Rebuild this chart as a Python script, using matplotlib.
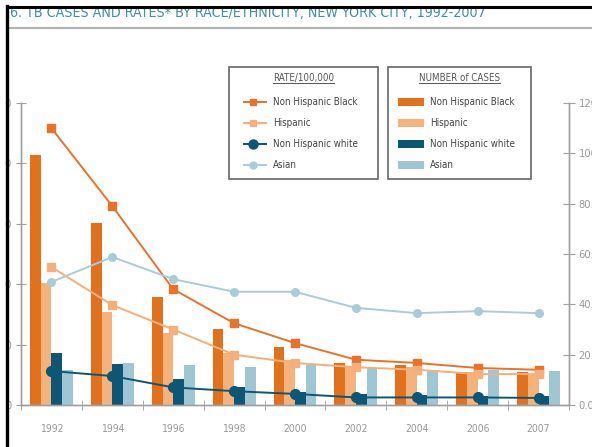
"""TB cases and rates by race/ethnicity, New York City, 1992-2007."""

import numpy as np
import matplotlib
matplotlib.use("Agg")
import matplotlib.pyplot as plt
from matplotlib import font_manager as fm
from matplotlib.patches import Rectangle
from matplotlib.lines import Line2D

# data
years = ["1992", "1994", "1996", "1998", "2000", "2002", "2004", "2006", "2007"]

cases_black = [2070, 1510, 890, 630, 480, 350, 330, 275, 270]
cases_hispanic = [1010, 770, 600, 430, 370, 315, 315, 275, 250]
cases_white = [430, 340, 215, 150, 108, 90, 83, 75, 75]
cases_asian = [290, 348, 331, 315, 331, 306, 290, 290, 282]

rate_black = [110.0, 79.0, 46.0, 32.5, 24.6, 18.0, 16.7, 14.7, 14.0]
rate_hispanic = [54.8, 39.7, 30.0, 20.0, 16.7, 15.0, 14.0, 12.3, 12.3]
rate_white = [13.5, 11.5, 7.0, 5.5, 4.4, 3.0, 3.0, 3.0, 2.8]
rate_asian = [48.9, 58.8, 50.0, 45.0, 45.0, 38.6, 36.5, 37.3, 36.5]

left_ticks = [0, 500, 1000, 1500, 2000, 2500]
right_ticks = [0, 20, 40, 60, 80, 100, 120]

groups = ["Non Hispanic Black", "Hispanic", "Non Hispanic white", "Asian"]
bar_colors = ["#e2711d", "#f4b27c", "#0e5675", "#9ec7d3"]
line_colors = ["#e8722a", "#f3b07a", "#0e5675", "#a9cdd8"]
markers = ["s", "s", "o", "o"]
marker_sizes = [5.5, 5.5, 7, 5.5]

title = "6. TB CASES AND RATES* BY RACE/ETHNICITY, NEW YORK CITY, 1992-2007"
GRAY = "#a0a0a0"

# pick a narrow face if one is installed
entries = fm.fontManager.ttflist
names = {f.name for f in entries}
NARROW, STRETCH = ["DejaVu Sans"], "normal"
if "Liberation Sans Narrow" in names:
    NARROW = ["Liberation Sans Narrow", "DejaVu Sans"]
else:
    for fam in ["DejaVu Sans", "Noto Sans", "Open Sans", "Roboto", "Liberation Sans", "Lato", "Inter"]:
        if any(f.name == fam and "condensed" in str(f.stretch) for f in entries):
            NARROW, STRETCH = [fam, "DejaVu Sans"], "condensed"
            break
TXT = dict(family=NARROW, stretch=STRETCH)

W, H = 592, 447


def fx(px):
    return px / W


def fy(py):
    return 1 - py / H


fig = plt.figure(figsize=(W / 100, H / 100), dpi=100)
fig.patch.set_facecolor("white")

ax = fig.add_axes([fx(21), fy(405), fx(569) - fx(21), fy(103) - fy(405)])
ax2 = ax.twinx()

x = np.arange(len(years))
w = 0.176
all_cases = [cases_black, cases_hispanic, cases_white, cases_asian]
for i, vals in enumerate(all_cases):
    ax.bar(x + (i - 1.5) * w, vals, w, color=bar_colors[i], linewidth=0)

all_rates = [rate_black, rate_hispanic, rate_white, rate_asian]
for i, vals in enumerate(all_rates):
    ax2.plot(x, vals, color=line_colors[i], lw=1.4, marker=markers[i],
             ms=marker_sizes[i], mec=line_colors[i], mfc=line_colors[i])

ax.set_xlim(-0.5, len(years) - 0.5)
ax.set_ylim(0, 2500)
ax2.set_ylim(0, 120)

ax.set_xticks(x)
ax.set_xticklabels(years, **TXT)
ax.set_xticks(np.arange(-0.5, len(years), 1), minor=True)
ax.tick_params(axis="x", which="major", length=0, pad=14, labelsize=7.5, labelcolor="#999999")
ax.tick_params(axis="x", which="minor", direction="inout", length=7, color=GRAY)

ax.set_yticks(left_ticks)
ax.set_yticklabels([f"{v:,}" for v in left_ticks], **TXT)
ax.tick_params(axis="y", direction="inout", length=7, color=GRAY, labelsize=8,
               labelcolor="#999999", pad=3)

ax2.set_yticks(right_ticks)
ax2.set_yticklabels([f"{v:.1f}" for v in right_ticks], **TXT)
ax2.tick_params(axis="y", direction="inout", length=8, color=GRAY, labelsize=8,
                labelcolor="#999999", pad=3)

for a in (ax, ax2):
    a.spines["top"].set_visible(False)
    for s in ("left", "right", "bottom"):
        a.spines[s].set_color(GRAY)
        a.spines[s].set_linewidth(1)


# legend boxes drawn by hand in pixel coordinates
def box(x0, x1, y0, y1):
    fig.add_artist(Rectangle((fx(x0), fy(y1)), fx(x1) - fx(x0), fy(y0) - fy(y1),
                             transform=fig.transFigure, facecolor="white",
                             edgecolor="#666666", lw=1.2, zorder=5))


renderer = fig.canvas.get_renderer()


def box_title(text, cx, y):
    t = fig.text(fx(cx), fy(y), text, ha="center", va="baseline", fontsize=7,
                 color="#555555", zorder=6, **TXT)
    bb = t.get_window_extent(renderer)
    fig.add_artist(Line2D([bb.x0 / W, bb.x1 / W], [fy(y + 2)] * 2,
                          transform=fig.transFigure, color="#555555", lw=0.7, zorder=6))


rows = [102, 123, 144, 165]

lx0, lx1 = 229, 378
box(lx0, lx1, 67, 179)
box_title("RATE/100,000", (lx0 + lx1) / 2, 81)
for i, g in enumerate(groups):
    yy = fy(rows[i])
    fig.add_artist(Line2D([fx(lx0 + 15), fx(lx0 + 37)], [yy, yy], transform=fig.transFigure,
                          color=line_colors[i], lw=1.4, zorder=6))
    fig.add_artist(Line2D([fx(lx0 + 24)], [yy], transform=fig.transFigure,
                          color=line_colors[i], marker=markers[i], ms=marker_sizes[i] - 0.5,
                          zorder=6))
    fig.text(fx(lx0 + 44), yy, g, ha="left", va="center", fontsize=7,
             color="#444444", zorder=6, **TXT)

rx0, rx1 = 388, 531
box(rx0, rx1, 67, 179)
box_title("NUMBER of CASES", (rx0 + rx1) / 2, 81)
for i, g in enumerate(groups):
    yy = rows[i]
    fig.add_artist(Rectangle((fx(rx0 + 10), fy(yy + 4)), fx(26), fy(yy - 4) - fy(yy + 4),
                             transform=fig.transFigure, facecolor=bar_colors[i],
                             lw=0, zorder=6))
    fig.text(fx(rx0 + 42), fy(yy), g, ha="left", va="center", fontsize=7,
             color="#444444", zorder=6, **TXT)

# title, cut at the top like the scan; sized to span the same width
tt = fig.text(fx(10), fy(17), title, ha="left", va="baseline", fontsize=13,
              color="#3f8fa6", zorder=3, **TXT)
tw = tt.get_window_extent(renderer).width
tt.set_fontsize(13 * 475 / tw)
fig.add_artist(Line2D([fx(8), 1], [fy(28)] * 2, transform=fig.transFigure,
                      color="#b4b4b4", lw=1.6, zorder=3))

# frame: white margin plus thick black edges
fig.add_artist(Rectangle((0, fy(6)), 1, fy(0) - fy(6), transform=fig.transFigure,
                         facecolor="white", lw=0, zorder=10))
fig.add_artist(Rectangle((0, 0), fx(5), 1, transform=fig.transFigure,
                         facecolor="white", lw=0, zorder=10))
fig.add_artist(Line2D([fx(6.5), 1], [fy(7)] * 2, transform=fig.transFigure,
                      color="black", lw=2.2, zorder=11))
fig.add_artist(Line2D([fx(6.5)] * 2, [0, fy(6)], transform=fig.transFigure,
                      color="black", lw=2.4, zorder=11))

fig.savefig("out.png", dpi=100, facecolor="white")
